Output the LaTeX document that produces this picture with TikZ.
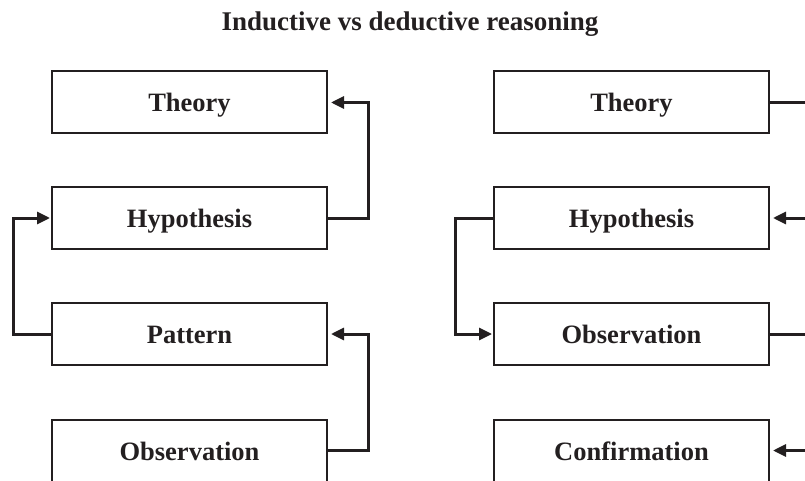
\documentclass[tikz,border=0pt]{standalone}
\usepackage{fontspec}
\setmainfont{Liberation Serif}
\usetikzlibrary{arrows.meta}
\definecolor{ink}{HTML}{231F20}
\tikzset{
  stagebox/.style={draw=ink, line width=2pt, minimum width=275pt, minimum height=62pt,
    inner sep=0pt, text height=19pt, text depth=0pt,
    font=\fontsize{26.5}{30}\selectfont\bfseries, text=ink},
  arr/.style={draw=ink, line width=3pt, line join=miter,
    -{Triangle[length=13pt,width=12pt]}},
}
\begin{document}
\begin{tikzpicture}[x=1pt,y=-1pt]
\clip (0,0) rectangle (805,481);
\node[font=\fontsize{27}{30}\selectfont\bfseries, text=ink, anchor=base] (title) at (410,31) {Inductive vs deductive reasoning};
% left column
\node[stagebox] (lth) at (189.5,102.5) {Theory};
\node[stagebox] (lhy) at (189.5,218) {Hypothesis};
\node[stagebox] (lpa) at (189.5,334) {Pattern};
\node[stagebox] (lob) at (189.5,450.5) {Observation};
% right column
\node[stagebox] (rth) at (631.5,102.5) {Theory};
\node[stagebox] (rhy) at (631.5,218) {Hypothesis};
\node[stagebox] (rob) at (631.5,334) {Observation};
\node[stagebox] (rco) at (631.5,450.5) {Confirmation};
% coordinates for bends
\coordinate (lr) at (368,0);
\coordinate (ll) at (13,0);
\coordinate (rl) at (455,0);
\coordinate (rr) at (812,0);
% left connectors
\draw[arr] (lhy.east) -| (lr |- lth.east) -- ([xshift=3pt]lth.east);
\draw[arr] (lob.east) -| (lr |- lpa.east) -- ([xshift=3pt]lpa.east);
\draw[arr] (lpa.west) -| (ll |- lhy.west) -- ([xshift=-1pt]lhy.west);
% right connectors
\draw[arr] (rhy.west) -| (rl |- rob.west) -- ([xshift=-1pt]rob.west);
\draw[arr] (rth.east) -| (rr |- rhy.east) -- ([xshift=3pt]rhy.east);
\draw[arr] (rob.east) -| (rr |- rco.east) -- ([xshift=3pt]rco.east);
\end{tikzpicture}
\end{document}
